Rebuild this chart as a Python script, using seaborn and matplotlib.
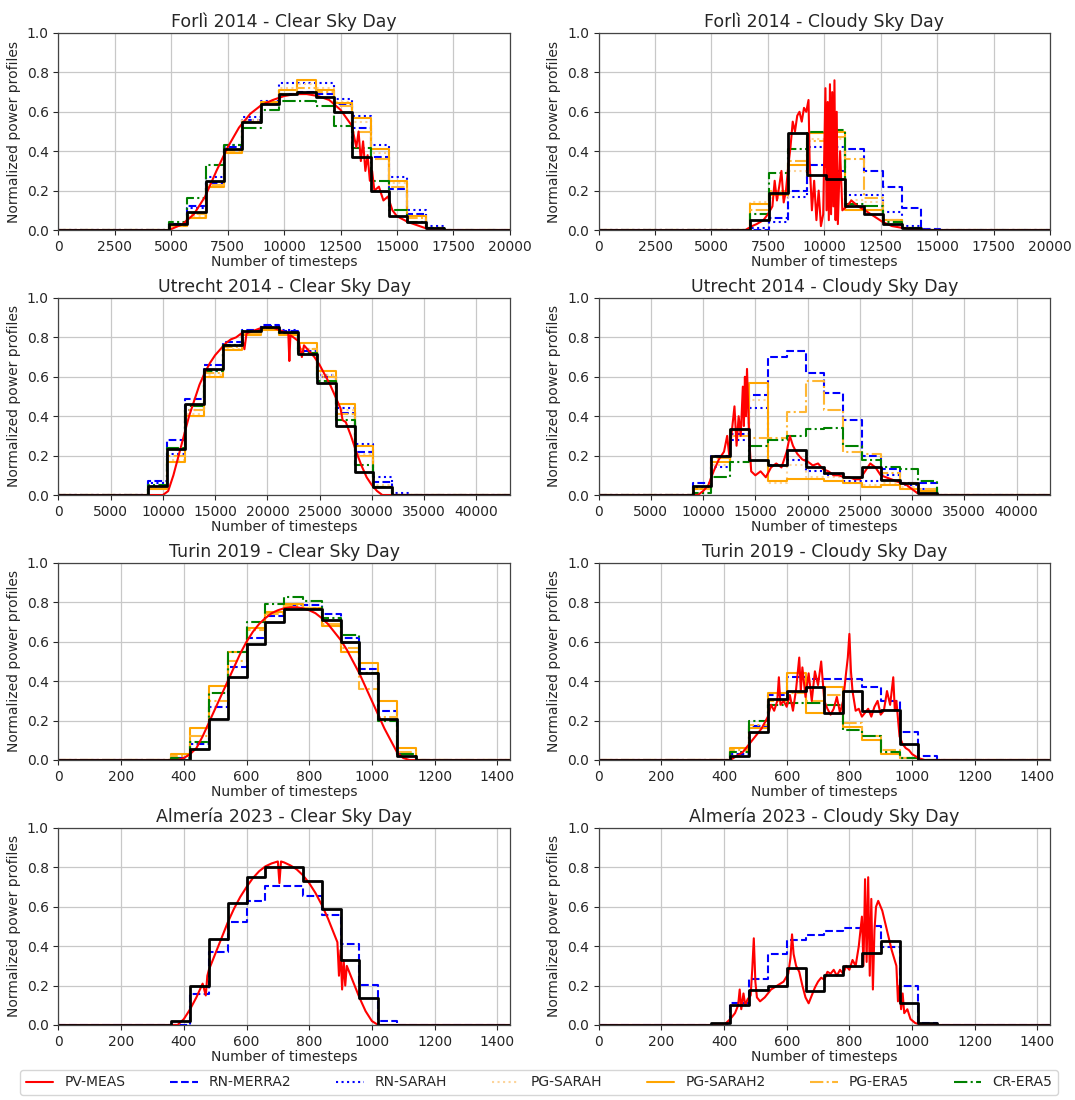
import numpy as np
import pandas as pd
import matplotlib
matplotlib.use("Agg")
import matplotlib.pyplot as plt
import seaborn as sns

# ---------------- data ----------------
SERIES = ["RN-MERRA2", "RN-SARAH", "PG-SARAH", "PG-SARAH2", "PG-ERA5", "CR-ERA5"]
LEGEND_ORDER = ["PV-MEAS"] + SERIES

TITLES = ["Forlì 2014 - Clear Sky Day", "Forlì 2014 - Cloudy Sky Day",
          "Utrecht 2014 - Clear Sky Day", "Utrecht 2014 - Cloudy Sky Day",
          "Turin 2019 - Clear Sky Day", "Turin 2019 - Cloudy Sky Day",
          "Almería 2023 - Clear Sky Day", "Almería 2023 - Cloudy Sky Day"]

# total timesteps per day-axis and hourly step layout (first step start, timesteps per hour)
FOR_N, UTR_N, MIN_N = 20000, 43200, 1440
FOR_CLR_T0, FOR_CLR_DT = 4900, 812
FOR_CLD_T0, FOR_CLD_DT = 6700, 844
UTR_CLR_T0, UTR_CLR_DT = 8550, 1800
UTR_CLD_T0, UTR_CLD_DT = 9000, 1800
TUR_CLR_T0, TUR_CLR_DT = 360, 60
TUR_CLD_T0, TUR_CLD_DT = 420, 60
ALM_CLR_T0, ALM_CLR_DT = 360, 60
ALM_CLD_T0, ALM_CLD_DT = 360, 60

# ---- Forlì clear ----
FOR_CLR_HOURLY = [0.03, 0.09, 0.25, 0.41, 0.55, 0.64, 0.69, 0.70, 0.675, 0.60, 0.37, 0.20, 0.07, 0.04, 0.01]
FOR_CLR_MERRA2 = [0.03, 0.12, 0.24, 0.42, 0.56, 0.645, 0.69, 0.70, 0.69, 0.64, 0.52, 0.37, 0.21, 0.08, 0.01]
FOR_CLR_RNSARAH = [0.03, 0.11, 0.27, 0.43, 0.575, 0.655, 0.745, 0.745, 0.745, 0.665, 0.58, 0.43, 0.27, 0.10, 0.02]
FOR_CLR_PGSARAH = [0.02, 0.07, 0.22, 0.40, 0.56, 0.65, 0.72, 0.74, 0.72, 0.65, 0.55, 0.39, 0.24, 0.07, 0.01]
FOR_CLR_PGSARAH2 = [0.02, 0.06, 0.22, 0.39, 0.55, 0.65, 0.71, 0.76, 0.71, 0.645, 0.57, 0.41, 0.25, 0.07, 0.01]
FOR_CLR_PGERA5 = [0.02, 0.08, 0.23, 0.40, 0.55, 0.64, 0.69, 0.72, 0.70, 0.63, 0.50, 0.36, 0.22, 0.06, 0.01]
FOR_CLR_CRERA5 = [0.04, 0.16, 0.33, 0.43, 0.52, 0.61, 0.655, 0.655, 0.63, 0.53, 0.415, 0.25, 0.10, 0.04, 0.01]
FOR_CLR_PV_X = [0, 4900, 5500, 6000, 6500, 7000, 7500, 8000, 8500, 9000, 9500, 10000, 10500, 11000,
                11500, 12000, 12500, 13000, 13200, 13300, 13400, 13500, 13600, 13700, 13800, 13900,
                14000, 14200, 14400, 14600, 14800, 15000, 15500, 16000, 16500, 20000]
FOR_CLR_PV_Y = [0, 0, 0.03, 0.08, 0.17, 0.30, 0.42, 0.52, 0.59, 0.635, 0.66, 0.68, 0.69, 0.69,
                0.68, 0.66, 0.61, 0.53, 0.42, 0.50, 0.35, 0.45, 0.30, 0.38, 0.25, 0.30,
                0.20, 0.22, 0.15, 0.17, 0.10, 0.07, 0.04, 0.02, 0.0, 0]

# ---- Forlì cloudy ----
FOR_CLD_HOURLY = [0.05, 0.19, 0.49, 0.28, 0.26, 0.12, 0.08, 0.03, 0.01, 0.0]
FOR_CLD_MERRA2 = [0.0, 0.06, 0.20, 0.33, 0.30, 0.41, 0.30, 0.22, 0.11, 0.005]
FOR_CLD_RNSARAH = [0.01, 0.04, 0.17, 0.42, 0.42, 0.18, 0.18, 0.09, 0.02, 0.0]
FOR_CLD_PGSARAH = [0.14, 0.16, 0.30, 0.46, 0.46, 0.15, 0.14, 0.05, 0.01, 0.0]
FOR_CLD_PGSARAH2 = [0.13, 0.18, 0.33, 0.49, 0.50, 0.10, 0.10, 0.05, 0.01, 0.0]
FOR_CLD_PGERA5 = [0.10, 0.20, 0.35, 0.45, 0.47, 0.36, 0.16, 0.05, 0.01, 0.0]
FOR_CLD_CRERA5 = [0.08, 0.29, 0.41, 0.50, 0.51, 0.13, 0.12, 0.04, 0.01, 0.0]
FOR_CLD_PV_X = [0, 6500, 6800, 7000, 7300, 7500, 7700, 7800, 7900, 8000, 8100, 8200, 8300, 8400,
                8500, 8600, 8700, 8800, 8900, 9000, 9100, 9200, 9300, 9350, 9450, 9550, 9650, 9750,
                9850, 9950, 10050, 10100, 10150, 10200, 10250, 10300, 10350, 10400, 10450, 10500,
                10550, 10600, 10700, 10800, 11000, 11200, 11500, 11800, 12200, 12600, 13000,
                13500, 14000, 20000]
FOR_CLD_PV_Y = [0, 0, 0.02, 0.03, 0.05, 0.08, 0.12, 0.25, 0.15, 0.22, 0.30, 0.14, 0.20, 0.32,
                0.42, 0.55, 0.50, 0.58, 0.60, 0.55, 0.62, 0.60, 0.66, 0.35, 0.10, 0.25, 0.05, 0.20,
                0.02, 0.08, 0.72, 0.10, 0.65, 0.05, 0.74, 0.08, 0.70, 0.12, 0.76, 0.05,
                0.60, 0.03, 0.40, 0.10, 0.12, 0.15, 0.12, 0.10, 0.07, 0.04, 0.02,
                0.01, 0.0, 0]

# ---- Utrecht clear ----
UTR_CLR_HOURLY = [0.047, 0.233, 0.46, 0.64, 0.76, 0.83, 0.855, 0.825, 0.715, 0.57, 0.35, 0.115, 0.04, 0.0]
UTR_CLR_MERRA2 = [0.069, 0.28, 0.485, 0.66, 0.775, 0.84, 0.865, 0.83, 0.73, 0.60, 0.415, 0.22, 0.065, 0.0]
UTR_CLR_RNSARAH = [0.06, 0.21, 0.43, 0.63, 0.76, 0.83, 0.86, 0.835, 0.74, 0.61, 0.44, 0.26, 0.09, 0.01]
UTR_CLR_PGSARAH = [0.04, 0.18, 0.41, 0.61, 0.74, 0.815, 0.845, 0.815, 0.74, 0.61, 0.43, 0.21, 0.05, 0.0]
UTR_CLR_PGSARAH2 = [0.03, 0.17, 0.40, 0.60, 0.735, 0.81, 0.84, 0.81, 0.77, 0.63, 0.46, 0.25, 0.04, 0.0]
UTR_CLR_PGERA5 = [0.04, 0.20, 0.43, 0.62, 0.75, 0.82, 0.85, 0.82, 0.74, 0.60, 0.41, 0.20, 0.04, 0.0]
UTR_CLR_CRERA5 = [0.05, 0.24, 0.45, 0.63, 0.76, 0.83, 0.85, 0.82, 0.72, 0.58, 0.38, 0.15, 0.04, 0.0]
UTR_CLR_PV_X = [0, 10000, 10500, 11000, 11500, 12000, 12500, 13000, 13500, 14000, 14500, 15000,
                15500, 16000, 16500, 17000, 17500, 17800, 18000, 18500, 19000, 19500, 20000,
                20500, 21000, 21500, 22000, 22100, 22200, 22500, 23000, 23300, 23500, 24000,
                24500, 25000, 25500, 26000, 26500, 27000, 27200, 27500, 28000, 28500, 29000,
                29500, 30000, 30500, 31000, 43200]
UTR_CLR_PV_Y = [0, 0, 0.02, 0.10, 0.20, 0.30, 0.40, 0.48, 0.56, 0.62, 0.67, 0.71,
                0.74, 0.77, 0.79, 0.80, 0.82, 0.74, 0.82, 0.83, 0.84, 0.85, 0.85,
                0.85, 0.84, 0.83, 0.82, 0.68, 0.81, 0.80, 0.78, 0.70, 0.76, 0.73,
                0.70, 0.66, 0.61, 0.56, 0.50, 0.44, 0.38, 0.37, 0.30, 0.22, 0.15,
                0.09, 0.05, 0.02, 0.0, 0]

# ---- Utrecht cloudy ----
UTR_CLD_HOURLY = [0.047, 0.20, 0.335, 0.18, 0.15, 0.23, 0.14, 0.11, 0.09, 0.14, 0.077, 0.06, 0.01, 0.0]
UTR_CLD_MERRA2 = [0.059, 0.20, 0.31, 0.51, 0.70, 0.73, 0.62, 0.52, 0.38, 0.20, 0.13, 0.06, 0.06, 0.0]
UTR_CLD_RNSARAH = [0.04, 0.14, 0.28, 0.44, 0.15, 0.18, 0.12, 0.10, 0.07, 0.07, 0.10, 0.05, 0.03, 0.0]
UTR_CLD_PGSARAH = [0.03, 0.15, 0.30, 0.48, 0.06, 0.15, 0.09, 0.09, 0.06, 0.05, 0.06, 0.04, 0.02, 0.0]
UTR_CLD_PGSARAH2 = [0.03, 0.17, 0.33, 0.57, 0.07, 0.08, 0.08, 0.07, 0.06, 0.04, 0.05, 0.03, 0.02, 0.0]
UTR_CLD_PGERA5 = [0.03, 0.19, 0.30, 0.29, 0.29, 0.42, 0.58, 0.43, 0.22, 0.21, 0.11, 0.06, 0.03, 0.0]
UTR_CLD_CRERA5 = [0.01, 0.09, 0.17, 0.25, 0.28, 0.30, 0.335, 0.34, 0.25, 0.18, 0.14, 0.13, 0.07, 0.0]
UTR_CLD_PV_X = [0, 9500, 10000, 10500, 11000, 11500, 12000, 12300, 12500, 12800, 13000, 13200,
                13400, 13600, 13800, 13900, 14000, 14100, 14200, 14400, 14600, 15000, 15500,
                16000, 16500, 17000, 17500, 18000, 18300, 18600, 19000, 19500, 20000, 20500,
                21000, 21500, 22000, 22500, 23000, 23500, 24000, 24500, 25000, 25500, 26000,
                26500, 27000, 27500, 28000, 28500, 29000, 29500, 30000, 30500, 31000, 43200]
UTR_CLD_PV_Y = [0, 0, 0.02, 0.05, 0.12, 0.18, 0.22, 0.30, 0.20, 0.35, 0.45, 0.25,
                0.40, 0.30, 0.55, 0.35, 0.60, 0.40, 0.64, 0.30, 0.12, 0.10, 0.12,
                0.09, 0.14, 0.16, 0.14, 0.22, 0.30, 0.25, 0.21, 0.18, 0.17, 0.15,
                0.16, 0.13, 0.12, 0.10, 0.10, 0.09, 0.09, 0.08, 0.08, 0.12, 0.16,
                0.14, 0.10, 0.09, 0.08, 0.07, 0.06, 0.05, 0.03, 0.01, 0.0, 0]

# ---- Turin clear ----
TUR_CLR_HOURLY = [0.0, 0.057, 0.21, 0.42, 0.59, 0.70, 0.765, 0.765, 0.71, 0.60, 0.44, 0.21, 0.02]
TUR_CLR_MERRA2 = [0.01, 0.08, 0.27, 0.47, 0.62, 0.73, 0.785, 0.785, 0.74, 0.62, 0.46, 0.25, 0.03]
TUR_CLR_PGSARAH2 = [0.03, 0.16, 0.375, 0.55, 0.67, 0.75, 0.79, 0.77, 0.68, 0.55, 0.49, 0.30, 0.06]
TUR_CLR_PGERA5 = [0.02, 0.12, 0.30, 0.50, 0.66, 0.74, 0.78, 0.77, 0.69, 0.57, 0.36, 0.22, 0.04]
TUR_CLR_CRERA5 = [0.01, 0.09, 0.34, 0.55, 0.70, 0.79, 0.825, 0.805, 0.72, 0.635, 0.44, 0.20, 0.03]
TUR_CLR_PV_X = [0, 380, 400, 420, 440, 460, 480, 500, 520, 540, 560, 580, 600, 620, 640, 660, 680,
                700, 720, 740, 760, 780, 800, 820, 840, 860, 880, 900, 920, 940, 960, 980, 1000,
                1020, 1040, 1060, 1080, 1100, 1120, 1440]
TUR_CLR_PV_Y = [0, 0, 0.01, 0.03, 0.06, 0.12, 0.19, 0.26, 0.33, 0.40, 0.47, 0.54, 0.60, 0.65, 0.69,
                0.72, 0.745, 0.76, 0.77, 0.775, 0.775, 0.77, 0.76, 0.745, 0.72, 0.69, 0.65, 0.61,
                0.56, 0.50, 0.44, 0.37, 0.30, 0.23, 0.16, 0.10, 0.04, 0.01, 0.0, 0]

# ---- Turin cloudy ----
TUR_CLD_HOURLY = [0.02, 0.14, 0.31, 0.35, 0.37, 0.24, 0.35, 0.25, 0.255, 0.08, 0.0]
TUR_CLD_MERRA2 = [0.03, 0.17, 0.33, 0.42, 0.41, 0.41, 0.41, 0.37, 0.30, 0.14, 0.02]
TUR_CLD_PGSARAH2 = [0.06, 0.16, 0.34, 0.44, 0.24, 0.37, 0.165, 0.10, 0.03, 0.01, 0.0]
TUR_CLD_PGERA5 = [0.05, 0.18, 0.30, 0.34, 0.30, 0.33, 0.19, 0.12, 0.05, 0.01, 0.0]
TUR_CLD_CRERA5 = [0.04, 0.196, 0.28, 0.29, 0.29, 0.28, 0.15, 0.12, 0.04, 0.01, 0.0]
TUR_CLD_PV_X = [0, 420, 440, 460, 480, 500, 520, 540, 550, 560, 570, 575, 580, 590, 600, 610, 620,
                630, 640, 645, 650, 660, 670, 680, 690, 700, 710, 720, 730, 740, 750, 760, 770,
                780, 790, 795, 800, 805, 810, 820, 830, 840, 850, 860, 870, 880, 890, 900, 910,
                920, 930, 940, 945, 950, 960, 970, 980, 990, 1000, 1010, 1020, 1040, 1440]
TUR_CLD_PV_Y = [0, 0, 0.02, 0.04, 0.08, 0.12, 0.16, 0.22, 0.28, 0.25, 0.30, 0.42, 0.28, 0.30, 0.27,
                0.33, 0.25, 0.36, 0.52, 0.35, 0.47, 0.32, 0.44, 0.30, 0.45, 0.38, 0.50, 0.30, 0.26,
                0.23, 0.26, 0.32, 0.24, 0.30, 0.45, 0.52, 0.64, 0.45, 0.35, 0.25, 0.26, 0.22, 0.24,
                0.26, 0.22, 0.27, 0.30, 0.23, 0.25, 0.35, 0.28, 0.42, 0.25, 0.30, 0.12, 0.08, 0.06,
                0.05, 0.03, 0.02, 0.01, 0.0, 0]

# ---- Almería clear ----
ALM_CLR_HOURLY = [0.02, 0.20, 0.435, 0.617, 0.753, 0.80, 0.80, 0.73, 0.59, 0.33, 0.135, 0.0]
ALM_CLR_MERRA2 = [0.0, 0.155, 0.37, 0.525, 0.63, 0.705, 0.705, 0.655, 0.56, 0.41, 0.205, 0.02]
ALM_CLR_PV_X = [0, 380, 400, 420, 440, 460, 470, 475, 480, 500, 520, 540, 560, 580, 600, 620, 640,
                660, 680, 700, 705, 710, 720, 740, 760, 780, 800, 820, 840, 860, 880, 890, 895,
                900, 905, 910, 915, 920, 940, 960, 980, 1000, 1020, 1440]
ALM_CLR_PV_Y = [0, 0, 0.03, 0.08, 0.14, 0.21, 0.15, 0.25, 0.28, 0.36, 0.44, 0.52, 0.59, 0.65, 0.70,
                0.745, 0.78, 0.805, 0.82, 0.83, 0.72, 0.83, 0.825, 0.81, 0.79, 0.76, 0.72, 0.67,
                0.61, 0.54, 0.46, 0.42, 0.25, 0.38, 0.18, 0.33, 0.20, 0.30, 0.22, 0.14, 0.07,
                0.02, 0.0, 0]

# ---- Almería cloudy ----
ALM_CLD_HOURLY = [0.01, 0.10, 0.18, 0.20, 0.29, 0.175, 0.255, 0.30, 0.364, 0.427, 0.114, 0.01]
ALM_CLD_MERRA2 = [0.0, 0.11, 0.235, 0.36, 0.43, 0.455, 0.478, 0.49, 0.50, 0.397, 0.20, 0.01]
ALM_CLD_PV_X = [0, 400, 420, 435, 445, 450, 455, 462, 468, 475, 485, 490, 495, 500, 505, 515, 530,
                550, 570, 590, 605, 612, 617, 622, 630, 640, 650, 660, 670, 680, 690, 700, 710,
                720, 730, 740, 750, 760, 770, 780, 790, 800, 810, 820, 830, 840, 845, 850, 855,
                860, 865, 870, 875, 880, 885, 892, 905, 920, 935, 950, 955, 960, 965, 970, 975,
                985, 995, 1010, 1030, 1440]
ALM_CLD_PV_Y = [0, 0, 0.03, 0.06, 0.10, 0.18, 0.08, 0.16, 0.10, 0.13, 0.15, 0.28, 0.44, 0.22, 0.14,
                0.12, 0.14, 0.18, 0.20, 0.22, 0.26, 0.34, 0.46, 0.36, 0.30, 0.27, 0.20, 0.14, 0.11,
                0.15, 0.19, 0.22, 0.24, 0.23, 0.27, 0.26, 0.28, 0.25, 0.28, 0.26, 0.30, 0.28, 0.33,
                0.30, 0.40, 0.55, 0.30, 0.74, 0.32, 0.75, 0.25, 0.64, 0.18, 0.48, 0.60, 0.63, 0.58,
                0.48, 0.38, 0.30, 0.12, 0.20, 0.08, 0.16, 0.06, 0.08, 0.03, 0.01, 0.0, 0]

# ---------------- styling ----------------
STYLE = {
    "PV-MEAS":   dict(color="red", linestyle="-", linewidth=1.5),
    "RN-MERRA2": dict(color="blue", linestyle="--", linewidth=1.5),
    "RN-SARAH":  dict(color="blue", linestyle=":", linewidth=1.5),
    "PG-SARAH":  dict(color="#fdd49a", linestyle=":", linewidth=1.5),
    "PG-SARAH2": dict(color="orange", linestyle="-", linewidth=1.5),
    "PG-ERA5":   dict(color="#ffb733", linestyle="-.", linewidth=1.5),
    "CR-ERA5":   dict(color="green", linestyle="-.", linewidth=1.5),
}

sns.set_style("ticks")
plt.rcParams["font.family"] = ["DejaVu Sans"]
plt.rcParams["axes.edgecolor"] = "#444444"

fig, axes = plt.subplots(4, 2, figsize=(10.75, 11), dpi=100)
fig.subplots_adjust(left=0.0544, right=0.9767, top=0.97, bottom=0.0682, wspace=0.197, hspace=0.345)


def step_frame(t0, dt, vals, n_total):
    xs = [0] + [t0 + k * dt for k in range(len(vals) + 1)] + [n_total]
    ys = [0] + list(vals) + [0, 0]
    return pd.DataFrame({"t": xs, "p": ys})


panels = [
    (FOR_N, FOR_CLR_T0, FOR_CLR_DT, FOR_CLR_HOURLY, FOR_CLR_PV_X, FOR_CLR_PV_Y,
     {"RN-MERRA2": FOR_CLR_MERRA2, "RN-SARAH": FOR_CLR_RNSARAH, "PG-SARAH": FOR_CLR_PGSARAH,
      "PG-SARAH2": FOR_CLR_PGSARAH2, "PG-ERA5": FOR_CLR_PGERA5, "CR-ERA5": FOR_CLR_CRERA5}),
    (FOR_N, FOR_CLD_T0, FOR_CLD_DT, FOR_CLD_HOURLY, FOR_CLD_PV_X, FOR_CLD_PV_Y,
     {"RN-MERRA2": FOR_CLD_MERRA2, "RN-SARAH": FOR_CLD_RNSARAH, "PG-SARAH": FOR_CLD_PGSARAH,
      "PG-SARAH2": FOR_CLD_PGSARAH2, "PG-ERA5": FOR_CLD_PGERA5, "CR-ERA5": FOR_CLD_CRERA5}),
    (UTR_N, UTR_CLR_T0, UTR_CLR_DT, UTR_CLR_HOURLY, UTR_CLR_PV_X, UTR_CLR_PV_Y,
     {"RN-MERRA2": UTR_CLR_MERRA2, "RN-SARAH": UTR_CLR_RNSARAH, "PG-SARAH": UTR_CLR_PGSARAH,
      "PG-SARAH2": UTR_CLR_PGSARAH2, "PG-ERA5": UTR_CLR_PGERA5, "CR-ERA5": UTR_CLR_CRERA5}),
    (UTR_N, UTR_CLD_T0, UTR_CLD_DT, UTR_CLD_HOURLY, UTR_CLD_PV_X, UTR_CLD_PV_Y,
     {"RN-MERRA2": UTR_CLD_MERRA2, "RN-SARAH": UTR_CLD_RNSARAH, "PG-SARAH": UTR_CLD_PGSARAH,
      "PG-SARAH2": UTR_CLD_PGSARAH2, "PG-ERA5": UTR_CLD_PGERA5, "CR-ERA5": UTR_CLD_CRERA5}),
    (MIN_N, TUR_CLR_T0, TUR_CLR_DT, TUR_CLR_HOURLY, TUR_CLR_PV_X, TUR_CLR_PV_Y,
     {"RN-MERRA2": TUR_CLR_MERRA2, "PG-SARAH2": TUR_CLR_PGSARAH2, "PG-ERA5": TUR_CLR_PGERA5,
      "CR-ERA5": TUR_CLR_CRERA5}),
    (MIN_N, TUR_CLD_T0, TUR_CLD_DT, TUR_CLD_HOURLY, TUR_CLD_PV_X, TUR_CLD_PV_Y,
     {"RN-MERRA2": TUR_CLD_MERRA2, "PG-SARAH2": TUR_CLD_PGSARAH2, "PG-ERA5": TUR_CLD_PGERA5,
      "CR-ERA5": TUR_CLD_CRERA5}),
    (MIN_N, ALM_CLR_T0, ALM_CLR_DT, ALM_CLR_HOURLY, ALM_CLR_PV_X, ALM_CLR_PV_Y,
     {"RN-MERRA2": ALM_CLR_MERRA2}),
    (MIN_N, ALM_CLD_T0, ALM_CLD_DT, ALM_CLD_HOURLY, ALM_CLD_PV_X, ALM_CLD_PV_Y,
     {"RN-MERRA2": ALM_CLD_MERRA2}),
]

XTICKS = {FOR_N: np.arange(0, 20001, 2500), UTR_N: np.arange(0, 40001, 5000), MIN_N: np.arange(0, 1401, 200)}

for ax, title, (n_total, t0, dt, hourly, pvx, pvy, models) in zip(axes.flat, TITLES, panels):
    for name in SERIES:
        if name not in models:
            continue
        df = step_frame(t0, dt, models[name], n_total)
        sns.lineplot(data=df, x="t", y="p", ax=ax, drawstyle="steps-post", estimator=None,
                     sort=False, legend=False, label=name, **STYLE[name])
    pv = pd.DataFrame({"t": pvx, "p": pvy})
    sns.lineplot(data=pv, x="t", y="p", ax=ax, estimator=None, sort=False, legend=False,
                 label="PV-MEAS", **STYLE["PV-MEAS"])
    hdf = step_frame(t0, dt, hourly, n_total)
    sns.lineplot(data=hdf, x="t", y="p", ax=ax, drawstyle="steps-post", estimator=None,
                 sort=False, legend=False, color="black", linewidth=2.0)
    ax.set_xlim(0, n_total)
    ax.set_ylim(0, 1.0)
    ax.set_xticks(XTICKS[n_total])
    ax.set_yticks(np.arange(0, 1.01, 0.2))
    ax.yaxis.set_major_formatter(matplotlib.ticker.FormatStrFormatter("%.1f"))
    ax.grid(True, color="#c8c8c8", linewidth=0.9)
    ax.set_axisbelow(True)
    ax.tick_params(labelsize=10, length=3.5, width=0.8)
    ax.set_title(title, fontsize=12.5, pad=4)
    ax.set_xlabel("Number of timesteps", fontsize=10, labelpad=1)
    ax.set_ylabel("Normalized power profiles", fontsize=10)
    for s in ax.spines.values():
        s.set_linewidth(0.9)

h, l = axes[0, 0].get_legend_handles_labels()
lookup = dict(zip(l, h))
fig.legend([lookup[k] for k in LEGEND_ORDER], LEGEND_ORDER, loc="lower left", ncol=7, mode="expand",
           bbox_to_anchor=(20 / 1075, 5 / 1100, 1038 / 1075, 32 / 1100), borderaxespad=0,
           fontsize=10, frameon=True, fancybox=True, edgecolor="#cccccc")

fig.savefig("out.png", dpi=100)
